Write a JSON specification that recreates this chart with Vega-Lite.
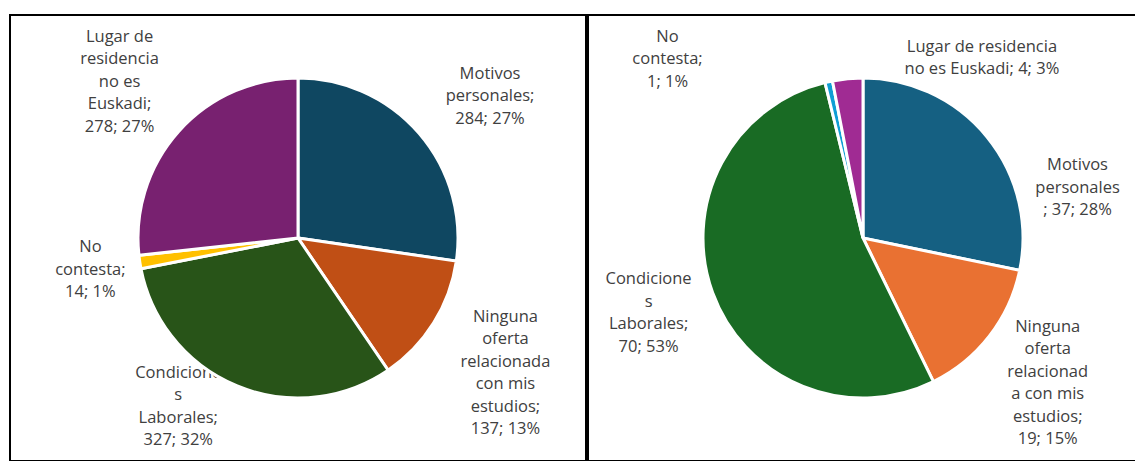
{
  "$schema": "https://vega.github.io/schema/vega-lite/v6.json",
  "padding": {"left": 9, "top": 14, "right": 0, "bottom": 0},
  "background": "white",
  "config": {
    "view": {"stroke": "black", "strokeWidth": 2},
    "concat": {"spacing": 0},
    "text": {"font": "Open Sans", "fontSize": 16.5, "lineHeight": 22.5, "color": "#404040", "align": "center", "baseline": "middle", "lineBreak": "\n"}
  },
  "datasets": {
    "left": [
      {"cat": "Motivos personales", "n": 284, "idx": 1, "label": "Motivos\npersonales;\n284; 27%"},
      {"cat": "Ninguna oferta relacionada con mis estudios", "n": 137, "idx": 2, "label": "Ninguna\noferta\nrelacionada\ncon mis\nestudios;\n137; 13%"},
      {"cat": "Condiciones Laborales", "n": 327, "idx": 3, "label": "Condicione\ns\nLaborales;\n327; 32%"},
      {"cat": "No contesta", "n": 14, "idx": 4, "label": "No\ncontesta;\n14; 1%"},
      {"cat": "Lugar de residencia no es Euskadi", "n": 278, "idx": 5, "label": "Lugar de\nresidencia\nno es\nEuskadi;\n278; 27%"}
    ],
    "right": [
      {"cat": "Motivos personales", "n": 37, "idx": 1, "label": "Motivos\npersonales\n; 37; 28%"},
      {"cat": "Ninguna oferta relacionada con mis estudios", "n": 19, "idx": 2, "label": "Ninguna\noferta\nrelacionad\na con mis\nestudios;\n19; 15%"},
      {"cat": "Condiciones Laborales", "n": 70, "idx": 3, "label": "Condicione\ns\nLaborales;\n70; 53%"},
      {"cat": "No contesta", "n": 1, "idx": 4, "label": "No\ncontesta;\n1; 1%"},
      {"cat": "Lugar de residencia no es Euskadi", "n": 4, "idx": 5, "label": "Lugar de residencia\nno es Euskadi; 4; 3%"}
    ]
  },
  "resolve": {"scale": {"color": "independent", "theta": "independent"}},
  "hconcat": [
    {
      "width": 576,
      "height": 446,
      "view": {"stroke": "black", "strokeWidth": 2},
      "data": {"name": "left"},
      "transform": [
        {"stack": "n", "groupby": [], "sort": [{"field": "idx"}], "as": ["t0", "t1"]},
        {"calculate": "(datum.t0 + datum.t1) / 2", "as": "tm"}
      ],
      "layer": [
        {"transform": [{"filter": "datum.idx === 1"}], "mark": {"type": "text", "radius": 238, "dx": 12, "dy": -8.5}, "encoding": {"theta": {"field": "tm", "type": "quantitative", "stack": null}, "text": {"field": "label"}}},
        {"transform": [{"filter": "datum.idx === 2"}], "mark": {"type": "text", "radius": 247, "dx": -2, "dy": -52}, "encoding": {"theta": {"field": "tm", "type": "quantitative", "stack": null}, "text": {"field": "label"}}},
        {"transform": [{"filter": "datum.idx === 3"}], "mark": {"type": "text", "radius": 202, "dx": -43, "dy": -52}, "encoding": {"theta": {"field": "tm", "type": "quantitative", "stack": null}, "text": {"field": "label"}}},
        {"transform": [{"filter": "datum.idx === 4"}], "mark": {"type": "text", "radius": 210, "dx": 0, "dy": -22.5}, "encoding": {"theta": {"field": "tm", "type": "quantitative", "stack": null}, "text": {"field": "label"}}},
        {"transform": [{"filter": "datum.idx === 5"}], "mark": {"type": "text", "radius": 237, "dx": -2, "dy": -43}, "encoding": {"theta": {"field": "tm", "type": "quantitative", "stack": null}, "text": {"field": "label"}}},
        {
          "mark": {"type": "arc", "outerRadius": 160, "stroke": "white", "strokeWidth": 3},
          "encoding": {
            "theta": {"field": "n", "type": "quantitative", "stack": true},
            "order": {"field": "idx", "type": "quantitative"},
            "color": {"field": "cat", "type": "nominal", "legend": null,
              "scale": {"domain": ["Motivos personales", "Ninguna oferta relacionada con mis estudios", "Condiciones Laborales", "No contesta", "Lugar de residencia no es Euskadi"],
                        "range": ["#0F4761", "#C04F15", "#285418", "#FFC000", "#782170"]}}
          }
        }
      ]
    },
    {
      "width": 550,
      "height": 446,
      "view": {"stroke": "black", "strokeWidth": 2},
      "data": {"name": "right"},
      "transform": [
        {"stack": "n", "groupby": [], "sort": [{"field": "idx"}], "as": ["t0", "t1"]},
        {"calculate": "(datum.t0 + datum.t1) / 2", "as": "tm"}
      ],
      "layer": [
        {"transform": [{"filter": "datum.idx === 1"}], "mark": {"type": "text", "radius": 198, "dx": 61, "dy": 52.5}, "encoding": {"theta": {"field": "tm", "type": "quantitative", "stack": null}, "text": {"field": "label"}}},
        {"transform": [{"filter": "datum.idx === 2"}], "mark": {"type": "text", "radius": 235, "dx": -1, "dy": -55}, "encoding": {"theta": {"field": "tm", "type": "quantitative", "stack": null}, "text": {"field": "label"}}},
        {"transform": [{"filter": "datum.idx === 3"}], "mark": {"type": "text", "radius": 227, "dx": -1, "dy": -36}, "encoding": {"theta": {"field": "tm", "type": "quantitative", "stack": null}, "text": {"field": "label"}}},
        {"transform": [{"filter": "datum.idx === 4"}], "mark": {"type": "text", "radius": 217, "dx": -149, "dy": 10.5}, "encoding": {"theta": {"field": "tm", "type": "quantitative", "stack": null}, "text": {"field": "label"}}},
        {"transform": [{"filter": "datum.idx === 5"}], "mark": {"type": "text", "radius": 168, "dx": 135, "dy": -24}, "encoding": {"theta": {"field": "tm", "type": "quantitative", "stack": null}, "text": {"field": "label"}}},
        {
          "mark": {"type": "arc", "outerRadius": 160, "stroke": "white", "strokeWidth": 3},
          "encoding": {
            "theta": {"field": "n", "type": "quantitative", "stack": true},
            "order": {"field": "idx", "type": "quantitative"},
            "color": {"field": "cat", "type": "nominal", "legend": null,
              "scale": {"domain": ["Motivos personales", "Ninguna oferta relacionada con mis estudios", "Condiciones Laborales", "No contesta", "Lugar de residencia no es Euskadi"],
                        "range": ["#156082", "#E97132", "#196B24", "#0F9ED5", "#A02B93"]}}
          }
        }
      ]
    }
  ]
}
